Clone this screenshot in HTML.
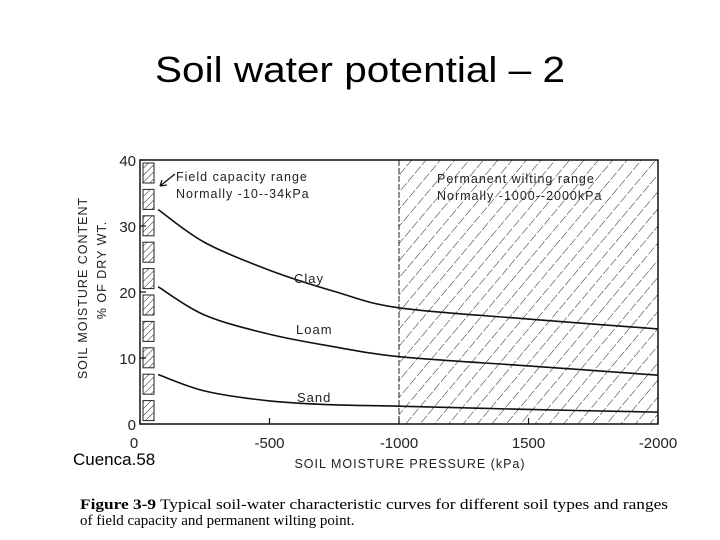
<!DOCTYPE html>
<html><head><meta charset="utf-8"><style>
html,body{margin:0;padding:0;background:#fff;width:720px;height:540px;overflow:hidden}
svg{display:block}
</style></head><body>
<svg id="chart" width="720" height="540" viewBox="0 0 720 540" font-family="Liberation Sans, sans-serif">
<defs>
<pattern id="hatch" patternUnits="userSpaceOnUse" width="11" height="11" patternTransform="rotate(40)">
<line x1="0" y1="0" x2="0" y2="11" stroke="#222" stroke-width="1" stroke-dasharray="9 2"/>
</pattern>
<pattern id="hatch2" patternUnits="userSpaceOnUse" width="5" height="5" patternTransform="rotate(45)">
<line x1="0" y1="0" x2="0" y2="5" stroke="#222" stroke-width="1"/>
</pattern>
</defs>
<text x="360" y="82" text-anchor="middle" font-size="36" textLength="410" lengthAdjust="spacingAndGlyphs">Soil water potential – 2</text>
<g id="plot"></g>
<text x="73" y="465" font-size="17">Cuenca.58</text>
<text x="80" y="509" font-family="Liberation Serif, serif" font-size="15" textLength="588" lengthAdjust="spacingAndGlyphs"><tspan font-weight="bold">Figure 3-9</tspan>   Typical soil-water characteristic curves for different soil types and ranges</text>
<text x="80" y="525" font-family="Liberation Serif, serif" font-size="15">of field capacity and permanent wilting point.</text>
</svg>
<script>
const pressures = [-70, -250, -500, -750, -1000, -1500, -2000];
const clayValues = [32.5, 27.5, 23.3, 20.1, 17.6, 15.9, 14.4];
const loamValues = [20.8, 16.5, 13.6, 11.7, 10.2, 8.8, 7.4];
const sandValues = [7.5, 5.0, 3.5, 2.9, 2.7, 2.2, 1.8];
const xTicks = [0, -500, -1000, -1500, -2000];
const xTickLabels = ['0', '-500', '-1000', '1500', '-2000'];
const yTicks = [0, 10, 20, 30, 40];

const NS = 'http://www.w3.org/2000/svg';
const g = document.getElementById('plot');
const X0 = 140, X1 = 658, Y0 = 424, Y1 = 160;
const xs = v => X0 + (-v) / 2000 * (X1 - X0);
const ys = v => Y0 - v / 40 * (Y0 - Y1);
function mk(tag, attrs, parent) {
  const e = document.createElementNS(NS, tag);
  for (const k in attrs) e.setAttribute(k, attrs[k]);
  (parent || g).appendChild(e);
  return e;
}
const wr = mk('rect', {x: xs(-1000), y: Y1, width: X1 - xs(-1000), height: Y0 - Y1, fill: 'url(#hatch)', stroke: '#222', 'stroke-dasharray': '6 2'});


for (let i = 0; i < 10; i++) {
  const s = mk('rect', {x: 143, y: Y1 + 3 + i * 26.4, width: 11, height: 20, fill: 'url(#hatch2)', stroke: '#222', 'stroke-width': 1});
  
  
}
const fr = mk('path', {d: `M${X0},${Y1}H${X1}V${Y0}H${X0}Z`, fill: 'none', stroke: '#111', 'stroke-width': 1.5});


yTicks.forEach(t => {
  const l = mk('line', {x1: X0, x2: X0 + 6, y1: ys(t), y2: ys(t), stroke: '#111', 'stroke-width': 1.2});
  
  
  const tx = mk('text', {x: X0 - 4, y: ys(t) + 6, 'text-anchor': 'end', 'font-size': 15, fill: '#222'});
  tx.textContent = t;
  
  
});
xTicks.forEach((t, i) => {
  const l = mk('line', {x1: xs(t), x2: xs(t), y1: Y0, y2: Y0 - 6, stroke: '#111', 'stroke-width': 1.2});
  
  
  const tx = mk('text', {x: xs(t) + (i === 0 ? -6 : 0), y: Y0 + 24, 'text-anchor': 'middle', 'font-size': 15, fill: '#222'});
  tx.textContent = xTickLabels[i];
  
  
});
function curve(vals, name) {
  const pts = pressures.map((p, i) => [xs(p), ys(vals[i])]);
  let d = `M${pts[0][0]},${pts[0][1]}`;
  for (let i = 0; i < pts.length - 1; i++) {
    const p0 = pts[i - 1] || pts[i], p1 = pts[i], p2 = pts[i + 1], p3 = pts[i + 2] || p2;
    const c1 = [p1[0] + (p2[0] - p0[0]) / 6, p1[1] + (p2[1] - p0[1]) / 6];
    const c2 = [p2[0] - (p3[0] - p1[0]) / 6, p2[1] - (p3[1] - p1[1]) / 6];
    d += ` C${c1[0]},${c1[1]} ${c2[0]},${c2[1]} ${p2[0]},${p2[1]}`;
  }
  const p = mk('path', {d, fill: 'none', stroke: '#111', 'stroke-width': 1.6});
  
  
}
curve(clayValues, 'clay-curve');
curve(loamValues, 'loam-curve');
curve(sandValues, 'sand-curve');
function label(x, y, txt, name, size, anchor) {
  const t = mk('text', {x, y, 'font-size': size || 13, fill: '#222', 'text-anchor': anchor || 'start', 'letter-spacing': 1});
  t.textContent = txt;
  
  
  return t;
}
label(294, 283, 'Clay', 'clay-label');
label(296, 334, 'Loam', 'loam-label');
label(297, 402, 'Sand', 'sand-label');
label(176, 181, 'Field capacity range', 'field-capacity-label', 12.5);
label(176, 198, 'Normally -10--34kPa', 'field-capacity-range', 12.5);
label(437, 183, 'Permanent wilting range', 'wilting-label', 12.5);
label(437, 200, 'Normally -1000--2000kPa', 'wilting-range', 12.5);
const ar = mk('path', {d: 'M175,174 L160,186 M160,186 l7,-1 M160,186 l2,-6', stroke: '#111', fill: 'none', 'stroke-width': 1.3});


label(410, 468, 'SOIL MOISTURE PRESSURE (kPa)', 'x-axis-title', 12.5, 'middle');
const yt = mk('text', {x: 0, y: 0, 'font-size': 12.5, fill: '#222', 'text-anchor': 'middle', 'letter-spacing': 1, transform: 'translate(87,288) rotate(-90)'});
yt.textContent = 'SOIL MOISTURE CONTENT';


const yt2 = mk('text', {x: 0, y: 0, 'font-size': 12.5, fill: '#222', 'text-anchor': 'middle', 'letter-spacing': 1, transform: 'translate(106,270) rotate(-90)'});
yt2.textContent = '% OF DRY WT.';


</script>
</body></html>
